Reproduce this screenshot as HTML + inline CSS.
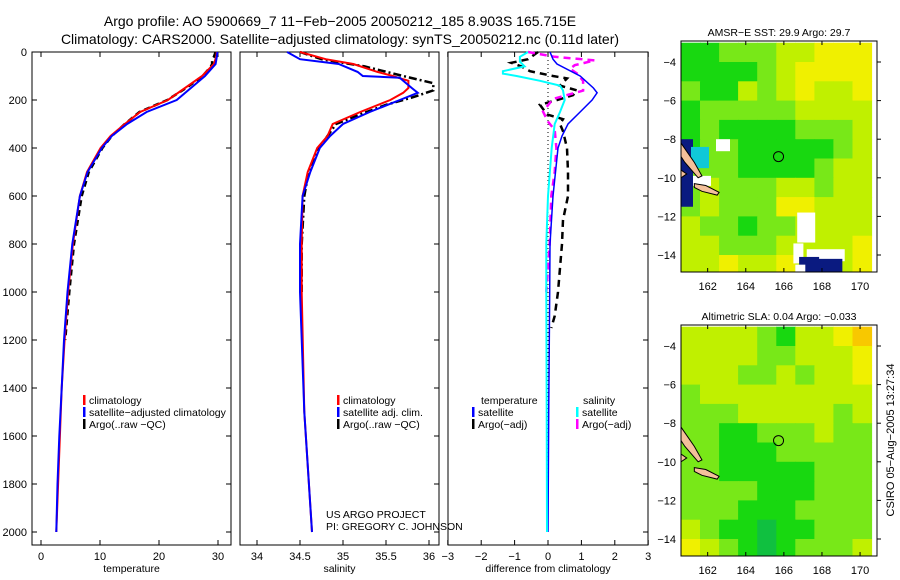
<!DOCTYPE html>
<html><head><meta charset="utf-8">
<style>
html,body{margin:0;padding:0;background:#fff;}
svg{display:block;font-family:"Liberation Sans",sans-serif;}
</style></head>
<body>
<svg id="chart" width="900" height="580" viewBox="0 0 900 580" xmlns="http://www.w3.org/2000/svg">
<defs>
<clipPath id="c1"><rect x="681" y="41" width="196" height="231"/></clipPath>
<clipPath id="c2"><rect x="681" y="325" width="196" height="231"/></clipPath>
</defs>
<text x="340" y="26" font-size="14" text-anchor="middle">Argo profile: AO 5900669_7 11−Feb−2005 20050212_185 8.903S 165.715E</text>
<text x="340" y="44" font-size="14" text-anchor="middle">Climatology: CARS2000. Satellite−adjusted climatology: synTS_20050212.nc (0.11d later)</text>
<g id="p1"></g>
<g id="p2"></g>
<g id="p3"></g>
<g id="m1"></g>
<g id="m2"></g>
<text x="326" y="518" font-size="10.5">US ARGO PROJECT</text>
<text x="326" y="530" font-size="10.5">PI: GREGORY C. JOHNSON</text>
<text transform="translate(894,440) rotate(-90)" font-size="11" text-anchor="middle">CSIRO 05−Aug−2005 13:27:34</text>
</svg>
<script>
// ---- data ----
const depthTicks=[0,200,400,600,800,1000,1200,1400,1600,1800,2000];
const tempTicks=[0,10,20,30];
const salTicks=[34,34.5,35,35.5,36];
const diffTicks=[-3,-2,-1,0,1,2,3];
const tDepth=[0,20,50,100,150,200,250,300,350,400,500,600,800,1000,1200,1400,1600,1800,2000];
const tClim=[29.8,29.7,29.3,27.3,24.4,21.5,16.8,14.2,11.8,10.1,7.8,6.6,5.4,4.6,4.0,3.5,3.2,2.9,2.6];
const tSat=[29.9,29.8,29.6,27.8,25.4,23.0,17.9,14.6,12.0,10.3,7.9,6.6,5.3,4.5,3.9,3.5,3.1,2.8,2.6];
const aDepth=[0,20,30,50,60,100,150,200,250,300,350,400,500,600,800,1000,1200];
const tArgo=[29.6,29.3,29.0,29.0,28.8,27.4,24.6,21.4,16.7,14.2,12.0,10.4,8.1,6.9,5.6,4.8,4.1];
const sDepth=[0,30,50,83,100,107,120,150,170,200,250,300,350,400,500,600,800,1000,1500,2000];
const sClim=[34.5,34.8,35.12,35.4,35.58,35.64,35.76,35.76,35.7,35.55,35.2,34.88,34.82,34.7,34.59,34.53,34.52,34.52,34.55,34.64];
const sSat=[34.35,34.5,34.95,35.17,35.23,35.66,35.7,35.8,35.87,35.66,35.31,35.0,34.85,34.73,34.62,34.53,34.5,34.5,34.55,34.64];
const saDepth=[0,30,60,100,130,160,190,220,260,300,400,500,600,800,1000];
const sArgo=[34.5,34.75,35.25,35.7,36.05,36.05,35.8,35.5,35.2,34.92,34.72,34.6,34.55,34.52,34.52];
const dDepth=[0,30,50,100,150,170,200,250,300,350,400,600,800,1000,1500,2000];
const dTsat=[0.06,0.15,0.27,0.96,1.36,1.47,1.32,0.96,0.6,0.42,0.3,0.15,0.06,0.05,0.02,0];
const cDepth=[0,20,40,60,80,90,100,120,140,160,200,250,300,400,600,800,1000,1500,2000];
const dSsat=[-0.6,-0.84,-0.84,-0.7,-1.35,-1.35,-0.94,-0.24,0.36,0.45,0.5,0.36,0.2,0.11,0,-0.05,-0.05,-0.04,-0.03];
const taDepth=[0,30,45,60,80,100,110,140,160,180,200,220,260,280,300,330,400,500,600,700,800,900,1000,1100,1150];
const dTargo=[-0.3,-0.6,-1.1,-0.8,-0.54,0.15,0.57,0.36,0.87,0.75,0.27,-0.24,-0.03,0.45,0.36,0.45,0.57,0.6,0.6,0.45,0.42,0.36,0.3,0.2,0.1];
const maDepth=[0,20,35,55,70,90,120,161,196,248,290,325,400,500,600,800,1000];
const dSargo=[-0.6,0.2,1.4,0.8,0.66,0.87,1.05,1.05,0.15,-0.15,0,0.2,0.25,0.2,0.1,0.05,-0.05];
const lonTicks=[162,164,166,168,170];
const latTicks=[-4,-6,-8,-10,-12,-14];
const sstGrid=[
[1,1,2,2,2,3,3,4,4,4],[1,1,1,1,2,3,4,4,4,4],[2,1,1,3,2,3,4,3,3,4],[1,2,2,2,2,2,3,3,3,3],
[1,2,1,1,1,1,2,2,2,3],[1,2,2,1,1,1,1,1,2,3],[2,2,2,1,1,1,1,2,3,3],[2,3,2,2,2,3,3,2,3,3],
[2,3,2,2,2,4,4,3,3,3],[3,2,2,1,2,2,3,3,3,3],[3,3,2,2,2,3,3,3,3,4],[3,3,4,3,3,4,3,3,3,4]];
const slaGrid=[
[3,3,3,3,2,1,3,3,4,5],[3,3,3,3,2,2,3,3,3,4],[3,3,3,2,2,3,2,3,3,4],[2,3,3,3,3,3,3,3,3,3],
[2,2,2,3,3,3,3,3,2,3],[2,2,1,1,2,2,2,3,2,2],[2,2,1,1,1,2,2,2,2,2],[2,2,1,1,1,1,1,2,2,2],
[2,2,2,2,1,1,1,2,2,2],[2,2,2,1,1,1,2,2,2,2],[3,2,1,1,0,1,1,2,2,2],[4,3,2,1,0,1,2,2,2,3]];
const palette=['#10c040','#18d810','#78e818','#c0f000','#f0f000','#f8c800'];

// ---- helpers ----
const NS='http://www.w3.org/2000/svg';
function mk(parent,tag,attrs){const e=document.createElementNS(NS,tag);for(const k in attrs)e.setAttribute(k,attrs[k]);parent.appendChild(e);return e;}
const Y0=52,Y1=545;
const yD=d=>Y0+0.24*d;
function panel(g,x0,x1,xs,ticks,title,left){
  const r=mk(g,'rect',{x:x0,y:Y0,width:x1-x0,height:Y1-Y0,fill:'none',stroke:'#000','stroke-width':1});
  
  
  ticks.forEach(t=>{
    const x=xs(t);
    mk(g,'line',{x1:x,x2:x,y1:Y0,y2:Y0+5,stroke:'#000'});
    mk(g,'line',{x1:x,x2:x,y1:Y1,y2:Y1-5,stroke:'#000'});
    const tx=mk(g,'text',{x:x,y:Y1+15,'font-size':11,'text-anchor':'middle'});
    tx.textContent=String(t).replace('-','−');
    
    
  });
  depthTicks.forEach(d=>{
    const y=yD(d);
    mk(g,'line',{x1:x1,x2:x1-5,y1:y,y2:y,stroke:'#000'});
    if(left){mk(g,'line',{x1:x0,x2:x0+5,y1:y,y2:y,stroke:'#000'});
      const tx=mk(g,'text',{x:27,y:y+4,'font-size':11,'text-anchor':'end'});
      tx.textContent=String(d);
      
      }
  });
  const tt=mk(g,'text',{x:(x0+x1)/2,y:572,'font-size':10.5,'text-anchor':'middle'});
  tt.textContent=title;
  
  
}
function line(g,xs,vals,depths,color,dash,w,name){
  const pts=vals.map((v,i)=>xs(v).toFixed(1)+','+yD(depths[i]).toFixed(1)).join(' ');
  const p=mk(g,'polyline',{points:pts,fill:'none',stroke:color,'stroke-width':w});
  if(dash)p.setAttribute('stroke-dasharray',dash);
  
  
}
function legend(g,x,y,items){
  items.forEach((it,i)=>{
    mk(g,'rect',{x:x,y:y+i*12-9,width:2.5,height:10,fill:it[0]});
    const t=mk(g,'text',{x:x+6,y:y+i*12,'font-size':10.5});
    t.textContent=it[1];
    
    
  });
}

// ---- panel 1 ----
const p1=document.getElementById('p1');
const xT=v=>41+5.9*v;
panel(p1,32,231,xT,tempTicks,'temperature',true);
line(p1,xT,tArgo,aDepth,'#000','6,4',2.5,'temp-argo-line');
line(p1,xT,tClim,tDepth,'#f00',null,2,'temp-climatology-line');
line(p1,xT,tSat,tDepth,'#00f',null,2,'temp-satellite-line');
legend(p1,83,404,[['#f00','climatology'],['#00f','satellite−adjusted climatology'],['#000','Argo(..raw −QC)']]);

// ---- panel 2 ----
const p2=document.getElementById('p2');
const xS=v=>257+86*(v-34);
panel(p2,240,439,xS,salTicks,'salinity',false);
line(p2,xS,sArgo,saDepth,'#000','8,3,2,3',2.5,'sal-argo-line');
line(p2,xS,sClim,sDepth,'#f00',null,2,'sal-climatology-line');
line(p2,xS,sSat,sDepth,'#00f',null,2,'sal-satellite-line');
legend(p2,337,404,[['#f00','climatology'],['#00f','satellite adj. clim.'],['#000','Argo(..raw −QC)']]);

// ---- panel 3 ----
const p3=document.getElementById('p3');
const xD=v=>548+33.4*v;
panel(p3,448,648,xD,diffTicks,'difference from climatology',false);
mk(p3,'line',{x1:xD(0),x2:xD(0),y1:Y0,y2:yD(2000),stroke:'#000','stroke-dasharray':'1,3'});
line(p3,xD,dTargo,taDepth,'#000','7,5',2.5,'diff-temp-argo-line');
line(p3,xD,dSargo,maDepth,'#f0f','7,5',2.5,'diff-sal-argo-line');
line(p3,xD,dTsat,dDepth,'#00f',null,1.5,'diff-temp-satellite-line');
line(p3,xD,dSsat,cDepth,'#0ff',null,2,'diff-sal-satellite-line');
const lt=mk(p3,'text',{x:481,y:404,'font-size':10.5});lt.textContent='temperature';


const ls=mk(p3,'text',{x:583,y:404,'font-size':10.5});ls.textContent='salinity';


legend(p3,472,416,[['#00f','satellite'],['#000','Argo(−adj)']]);
legend(p3,576,416,[['#0ff','satellite'],['#f0f','Argo(−adj)']]);

// ---- maps ----
function map(id,top,grid,title,sst,clip){
  const g0=document.getElementById(id);
  const g=mk(g0,'g',{'clip-path':'url(#'+clip+')'});
  const x0=681,x1=877,y1=top+231;
  const xL=lon=>x0+(lon-160.6)*19.05;
  const yL=lat=>top+1.7+(-3-lat)*19.3;
  grid.forEach((row,r)=>row.forEach((v,c)=>{
    const cell=mk(g,'rect',{x:xL(160.6+c).toFixed(1),y:yL(-3-r).toFixed(1),width:19.6,height:19.8,fill:palette[v]});
    
    
  }));
  if(sst){
    mk(g,'rect',{x:x0,y:yL(-8),width:12,height:yL(-11.5)-yL(-8),fill:'#0a1a80'});
    mk(g,'rect',{x:x0+10,y:yL(-8.4),width:18,height:yL(-9.5)-yL(-8.4),fill:'#10c8d8'});
    mk(g,'rect',{x:x0+12,y:yL(-9.9),width:18,height:10,fill:'#fff'});
    mk(g,'rect',{x:x0+35,y:yL(-8),width:14,height:12,fill:'#fff'});
    mk(g,'rect',{x:xL(166.7),y:yL(-11.8),width:18,height:30,fill:'#fff'});
    mk(g,'rect',{x:xL(166.5),y:yL(-13.4),width:10,height:20,fill:'#fff'});
    mk(g,'rect',{x:xL(167.2),y:yL(-13.7),width:38,height:12,fill:'#fff'});
    mk(g,'rect',{x:xL(166.8),y:yL(-14.1),width:20,height:30,fill:'#0a1a80'});
    mk(g,'rect',{x:xL(167.6),y:yL(-14.2),width:28,height:26,fill:'#0a1a80'});
    mk(g,'rect',{x:xL(166.6),y:yL(-14.5),width:10,height:24,fill:'#fff'});
  }
  const isl=[[160.6,-8.2],[161.3,-9.2],[161.7,-9.9],[161.5,-10],[160.8,-9.2],[160.6,-8.9]];
  mk(g,'polygon',{points:isl.map(p=>xL(p[0])+','+yL(p[1])).join(' '),fill:'#f4c09a',stroke:'#000','stroke-width':1});
  const isl2=[[161.3,-10.3],[161.9,-10.4],[162.6,-10.75],[162.5,-10.9],[161.7,-10.7],[161.3,-10.5]];
  mk(g,'polygon',{points:isl2.map(p=>xL(p[0])+','+yL(p[1])).join(' '),fill:'#f4c09a',stroke:'#000','stroke-width':1});
  mk(g,'polygon',{points:[[160.6,-9.6],[160.9,-9.8],[160.6,-10]].map(p=>xL(p[0])+','+yL(p[1])).join(' '),fill:'#f4c09a',stroke:'#000'});
  mk(g,'circle',{cx:xL(165.72),cy:yL(-8.9),r:5,fill:'none',stroke:'#000'});
  const fr=mk(g0,'rect',{x:x0,y:top,width:x1-x0,height:231,fill:'none',stroke:'#000'});
  
  
  lonTicks.forEach(l=>{const x=xL(l);
    mk(g0,'line',{x1:x,x2:x,y1:top,y2:top+4,stroke:'#000'});
    mk(g0,'line',{x1:x,x2:x,y1:y1,y2:y1-4,stroke:'#000'});
    const t=mk(g0,'text',{x:x,y:y1+18,'font-size':11,'text-anchor':'middle'});t.textContent=String(l);
    
    });
  latTicks.forEach(l=>{const y=yL(l);
    mk(g0,'line',{x1:x1,x2:x1+4,y1:y,y2:y,stroke:'#000'});
    const t=mk(g0,'text',{x:676,y:y+4,'font-size':11,'text-anchor':'end'});t.textContent=String(l).replace('-','−');
    
    });
  const tt=mk(g0,'text',{x:(x0+x1)/2,y:top-5,'font-size':10.5,'text-anchor':'middle'});tt.textContent=title;
  
  
}
map('m1',41,sstGrid,'AMSR−E SST: 29.9 Argo: 29.7',true,'c1');
map('m2',325,slaGrid,'Altimetric SLA: 0.04 Argo: −0.033',false,'c2');
</script>
</body></html>
